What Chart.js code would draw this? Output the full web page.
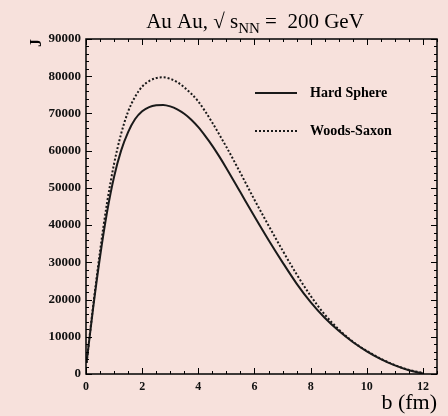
<!DOCTYPE html>
<html>
<head>
<meta charset="utf-8">
<script src="https://cdn.jsdelivr.net/npm/chart.js@4.4.1/dist/chart.umd.min.js"></script>
<style>
  html, body { margin: 0; padding: 0; background: #f7e1dc; }
  #wrap { width: 448px; height: 416px; position: relative; }
</style>
</head>
<body>
<div id="wrap"><canvas id="chart" width="448" height="416"></canvas></div>
<script>
// impact parameter b (fm)
const bValues = [0.02, 0.25, 0.5, 0.75, 1.0, 1.25, 1.5, 1.75, 2.0, 2.25, 2.5, 2.75, 3.0, 3.25, 3.5, 3.75,
  4.0, 4.25, 4.5, 4.75, 5.0, 5.5, 6.0, 6.5, 7.0, 7.5, 8.0, 8.5, 9.0, 9.5, 10.0, 10.5, 11.0, 11.5, 12.0];
const hardSphere = [3000, 17500, 31500, 43500, 53000, 60000, 65000, 68500, 70600, 71700, 72200, 72300, 71900,
  71100, 69900, 68300, 66300, 63900, 61300, 58400, 55300, 48800, 42300, 36000, 30000, 24300, 19300, 15100,
  11600, 8600, 6100, 4000, 2300, 1000, 150];
const woodsSaxon = [3000, 18000, 33000, 46000, 56500, 64500, 70500, 74500, 77200, 78700, 79500, 79700, 79300,
  78400, 77000, 75300, 73200, 70500, 67500, 64300, 61000, 54000, 46800, 39900, 33200, 26800, 21000, 16000,
  12000, 8700, 6200, 4100, 2400, 1100, 300];
const seriesNames = ["Hard Sphere", "Woods-Saxon"];
const xTicks = [0, 2, 4, 6, 8, 10, 12];

const serif = "'Liberation Serif', 'DejaVu Serif', serif";

function toPoints(ys) {
  return bValues.map((b, i) => ({ x: b, y: ys[i] }));
}

// frame, inward ticks, title, axis titles and legend
const decorations = {
  id: "decorations",
  afterDraw(chart) {
    const ctx = chart.ctx;
    const area = chart.chartArea;
    const xs = chart.scales.x;
    const ys = chart.scales.y;
    ctx.save();
    ctx.strokeStyle = "#000";
    ctx.lineWidth = 1.5;
    ctx.strokeRect(area.left, area.top, area.right - area.left, area.bottom - area.top);

    ctx.lineWidth = 1;
    ctx.beginPath();
    for (let v = 0; v <= 12.5; v += 0.5) {
      const px = Math.round(xs.getPixelForValue(v)) + 0.5;
      const len = v % 2 === 0 ? 6 : 3;
      ctx.moveTo(px, area.bottom); ctx.lineTo(px, area.bottom - len);
      ctx.moveTo(px, area.top); ctx.lineTo(px, area.top + len);
    }
    for (let v = 0; v <= 90000; v += 2000) {
      const py = Math.round(ys.getPixelForValue(v)) + 0.5;
      const len = v % 10000 === 0 ? 6 : 3;
      ctx.moveTo(area.left, py); ctx.lineTo(area.left + len, py);
      ctx.moveTo(area.right, py); ctx.lineTo(area.right - len, py);
    }
    ctx.stroke();

    // title with subscript
    ctx.fillStyle = "#000";
    ctx.textBaseline = "alphabetic";
    const big = "21px " + serif;
    const small = "15px " + serif;
    const parts = [["Au Au, \u221A s", big, 0], ["NN", small, 5], [" =  200 GeV", big, 0]];
    let total = 0;
    parts.forEach(p => { ctx.font = p[1]; total += ctx.measureText(p[0]).width; });
    let tx = 255 - total / 2;
    parts.forEach(p => {
      ctx.font = p[1];
      ctx.fillText(p[0], tx, 28 + p[2]);
      tx += ctx.measureText(p[0]).width;
    });

    // axis titles
    ctx.font = "22px " + serif;
    ctx.textAlign = "right";
    ctx.fillText("b (fm)", area.right, 409);
    ctx.save();
    ctx.translate(41, 43);
    ctx.rotate(-Math.PI / 2);
    ctx.font = "bold 16px " + serif;
    ctx.textAlign = "center";
    ctx.fillText("J", 0, 0);
    ctx.restore();

    // legend
    const rows = [93, 131];
    chart.data.datasets.forEach((ds, i) => {
      ctx.strokeStyle = ds.borderColor;
      ctx.lineWidth = ds.borderWidth;
      ctx.setLineDash(ds.borderDash || []);
      ctx.beginPath();
      ctx.moveTo(255, rows[i]); ctx.lineTo(297, rows[i]);
      ctx.stroke();
      ctx.setLineDash([]);
      ctx.font = "bold 14px " + serif;
      ctx.textAlign = "left";
      ctx.textBaseline = "middle";
      ctx.fillText(ds.label, 310, rows[i]);
    });
    ctx.restore();
  }
};

new Chart(document.getElementById("chart"), {
  type: "line",
  data: {
    datasets: [
      { label: seriesNames[0], data: toPoints(hardSphere), borderColor: "#1a1a1a", borderWidth: 2,
        pointRadius: 0, cubicInterpolationMode: "monotone", fill: false },
      { label: seriesNames[1], data: toPoints(woodsSaxon), borderColor: "#1a1a1a", borderWidth: 2,
        borderDash: [2, 2], pointRadius: 0, cubicInterpolationMode: "monotone", fill: false }
    ]
  },
  options: {
    responsive: false,
    animation: false,
    layout: { padding: { top: 39, right: 11, left: 0, bottom: 0 } },
    plugins: { legend: { display: false }, tooltip: { enabled: false }, title: { display: false } },
    scales: {
      x: {
        type: "linear", min: 0, max: 12.5,
        afterFit(scale) { scale.height = 42; },
        afterBuildTicks(scale) { scale.ticks = xTicks.map(v => ({ value: v })); },
        grid: { display: false, drawTicks: false },
        border: { display: false },
        ticks: { padding: 6, maxRotation: 0, color: "#111", font: { family: serif, size: 12, weight: "bold" } }
      },
      y: {
        min: 0, max: 90000,
        afterFit(scale) { scale.width = 86; },
        grid: { display: false, drawTicks: false },
        border: { display: false },
        ticks: { stepSize: 10000, padding: 5, color: "#111", callback: v => String(v),
          font: { family: serif, size: 13, weight: "bold" } }
      }
    }
  },
  plugins: [decorations]
});
</script>
</body>
</html>
